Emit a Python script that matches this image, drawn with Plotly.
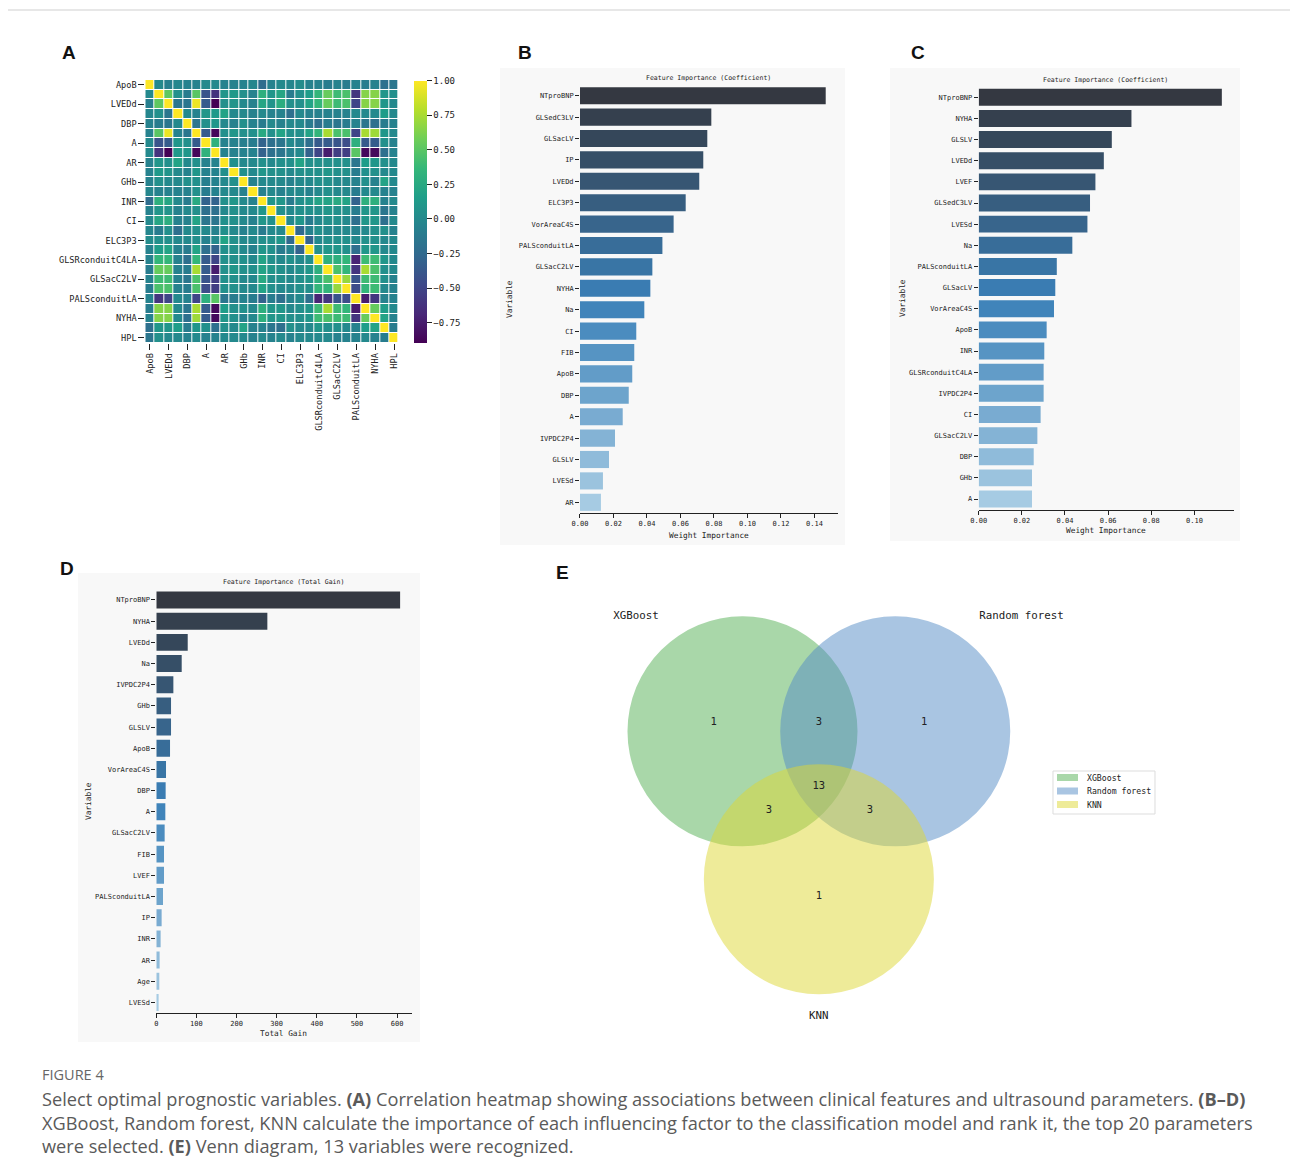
import plotly.graph_objects as go

W, H = 1290, 1176
MONO = "DejaVu Sans Mono"
INK = "#222222"

# horizontal placement correction for the page frame the figure is shown in
X_OFF, X_SCALE = 8.0, 0.9938


def px(x):
    return (x - X_OFF) / X_SCALE / W


def py(y):
    return 1 - y / H


# ---------------- A: correlation matrix (lower triangle, row by row) ----------------
heat_vars = ["ApoB", "GLSLV", "LVEDd", "Age", "DBP", "LVESd", "A", "LVEF", "AR", "Na",
             "GHb", "FIB", "INR", "IP", "CI", "SBP", "ELC3P3", "IVPDC2P4",
             "GLSRconduitC4LA", "GLSacLV", "GLSacC2LV", "GLSedC3LV", "PALSconduitLA",
             "NTproBNP", "NYHA", "VorAreaC4S", "HPL"]

corr_lower = [
    [1],
    [0.0, 1],
    [-0.08, 0.52, 1],
    [-0.02, 0.05, -0.15, 1],
    [-0.05, -0.1, -0.15, 0.0, 1],
    [-0.05, 0.5, 0.95, -0.05, -0.15, 1],
    [0.0, -0.4, -0.35, 0.1, 0.05, -0.35, 1],
    [0.0, -0.62, -0.895, 0.12, 0.1, -0.86, 0.32, 1],
    [-0.05, 0.1, 0.05, 0.2, 0.0, 0.05, -0.05, -0.05, 1],
    [-0.05, 0.12, 0.08, 0.0, -0.05, 0.1, -0.05, -0.05, 0.05, 1],
    [-0.05, 0.05, 0.0, 0.0, 0.05, 0.05, -0.08, -0.05, 0.0, 0.05, 1],
    [-0.02, -0.05, -0.05, -0.05, -0.05, 0.05, -0.1, -0.05, 0.0, 0.0, -0.05, 1],
    [-0.22, 0.3, 0.22, 0.0, -0.1, 0.25, -0.3, -0.3, 0.05, 0.1, 0.0, -0.05, 1],
    [-0.05, 0.1, 0.08, -0.05, 0.0, 0.05, -0.2, -0.2, 0.0, 0.05, 0.0, 0.0, 0.1, 1],
    [0.0, 0.22, 0.28, -0.05, -0.05, 0.2, -0.15, -0.15, 0.05, 0.05, 0.0, -0.05, 0.1, 0.05, 1],
    [-0.02, -0.1, 0.05, -0.2, 0.0, 0.05, 0.0, -0.05, 0.05, 0.0, -0.05, 0.0, -0.1, 0.0, 0.0, 1],
    [0.02, 0.05, 0.05, 0.0, 0.0, 0.05, -0.05, 0.0, 0.2, 0.05, 0.0, 0.0, 0.05, 0.05, 0.1, -0.25, 1],
    [-0.05, 0.15, 0.2, -0.05, -0.1, 0.2, -0.2, -0.3, 0.05, 0.05, 0.0, -0.05, 0.1, 0.05, -0.1,
     -0.05, -0.3, 1],
    [-0.05, 0.35, 0.35, -0.05, -0.2, 0.35, -0.35, -0.5, 0.05, 0.05, 0.05, 0.0, 0.2, 0.05, 0.0,
     0.05, 0.0, 0.05, 1],
    [-0.1, 0.55, 0.55, -0.05, -0.1, 0.75, -0.35, -0.75, 0.05, 0.1, 0.05, 0.05, 0.2, 0.1, 0.05,
     0.0, 0.05, 0.1, 0.3, 1],
    [-0.05, 0.4, 0.4, -0.05, -0.15, 0.45, -0.4, -0.55, 0.05, 0.05, 0.0, 0.0, 0.25, 0.05, 0.05,
     0.0, 0.05, 0.1, 0.3, 0.45, 1],
    [-0.1, 0.45, 0.45, -0.05, -0.1, 0.45, -0.45, -0.55, 0.05, 0.05, 0.0, 0.0, 0.2, 0.05, 0.0,
     0.0, 0.05, 0.05, 0.35, 0.35, 0.7, 1],
    [-0.05, -0.6, -0.5, 0.0, -0.05, -0.5, 0.3, 0.5, -0.15, -0.1, -0.05, -0.1, -0.3, -0.1, -0.2,
     -0.05, 0.0, -0.2, -0.7, -0.6, -0.4, -0.45, 1],
    [-0.1, 0.65, 0.65, 0.0, -0.15, 0.75, -0.35, -0.85, 0.15, 0.05, 0.05, 0.0, 0.3, 0.1, 0.1,
     0.0, 0.05, 0.1, 0.4, 0.75, 0.4, 0.35, -0.75, 1],
    [-0.05, 0.65, 0.65, 0.0, -0.2, 0.72, -0.35, -0.85, 0.1, 0.05, -0.05, 0.0, 0.3, 0.1, 0.1,
     0.05, 0.05, 0.1, 0.4, 0.45, 0.4, 0.4, -0.6, 0.55, 1],
    [-0.2, 0.1, 0.1, 0.15, -0.1, 0.1, 0.05, -0.2, 0.05, 0.0, 0.2, -0.05, -0.05, -0.15, -0.2,
     0.05, 0.0, 0.0, 0.1, 0.05, 0.05, 0.0, -0.05, 0.15, 0.2, 1],
    [-0.15, 0.05, 0.0, 0.0, -0.05, 0.0, -0.05, -0.05, 0.0, 0.0, 0.0, -0.05, 0.0, -0.05, 0.0,
     -0.05, 0.0, 0.0, 0.0, 0.0, -0.05, -0.05, -0.05, 0.0, -0.05, -0.1, 1],
]
colorbar_ticks = [1.0, 0.75, 0.5, 0.25, 0.0, -0.25, -0.5, -0.75]

# ---------------- B: Random forest coefficients ----------------
rf_features = ["NTproBNP", "GLSedC3LV", "GLSacLV", "IP", "LVEDd", "ELC3P3", "VorAreaC4S",
               "PALSconduitLA", "GLSacC2LV", "NYHA", "Na", "CI", "FIB", "ApoB", "DBP", "A",
               "IVPDC2P4", "GLSLV", "LVESd", "AR"]
rf_values = [0.1467, 0.0784, 0.0760, 0.0736, 0.0712, 0.0631, 0.0559, 0.0492, 0.0432, 0.0420,
             0.0384, 0.0336, 0.0324, 0.0312, 0.0291, 0.0255, 0.0209, 0.0173, 0.0137, 0.0125]
rf_ticks = [0.0, 0.02, 0.04, 0.06, 0.08, 0.10, 0.12, 0.14]

# ---------------- C: KNN coefficients ----------------
knn_features = ["NTproBNP", "NYHA", "GLSLV", "LVEDd", "LVEF", "GLSedC3LV", "LVESd", "Na",
                "PALSconduitLA", "GLSacLV", "VorAreaC4S", "ApoB", "INR", "GLSRconduitC4LA",
                "IVPDC2P4", "CI", "GLSacC2LV", "DBP", "GHb", "A"]
knn_values = [0.1127, 0.0708, 0.0617, 0.0580, 0.0541, 0.0516, 0.0504, 0.0434, 0.0362, 0.0355,
              0.0349, 0.0315, 0.0304, 0.0301, 0.0301, 0.0287, 0.0272, 0.0255, 0.0247, 0.0247]
knn_ticks = [0.0, 0.02, 0.04, 0.06, 0.08, 0.10]

# ---------------- D: XGBoost total gain ----------------
xgb_features = ["NTproBNP", "NYHA", "LVEDd", "Na", "IVPDC2P4", "GHb", "GLSLV", "ApoB",
                "VorAreaC4S", "DBP", "A", "GLSacC2LV", "FIB", "LVEF", "PALSconduitLA", "IP",
                "INR", "AR", "Age", "LVESd"]
xgb_values = [607.5, 276.7, 78.3, 63.3, 42.5, 36.7, 36.7, 34.2, 24.2, 23.3, 22.5, 20.8, 19.2,
              19.2, 16.7, 13.3, 10.8, 8.3, 7.5, 5.8]
xgb_ticks = [0, 100, 200, 300, 400, 500, 600]

# ---------------- E: Venn counts ----------------
venn_sets = ["XGBoost", "Random forest", "KNN"]
venn_regions = ["100", "110", "010", "111", "101", "011", "001"]
venn_counts = [1, 3, 1, 13, 3, 3, 1]

# ---------------- helpers ----------------
corr = [[0.0] * len(heat_vars) for _ in heat_vars]
for i, row in enumerate(corr_lower):
    for j, v in enumerate(row):
        corr[i][j] = v
        corr[j][i] = v
zmin = min(min(r) for r in corr)


def hex2rgb(h):
    h = h.lstrip("#")
    return tuple(int(h[k:k + 2], 16) for k in (0, 2, 4))


def blues_d(n):
    """Dark-to-light blue ramp (seaborn 'Blues_d')."""
    anchors = [hex2rgb(c) for c in ("#343841", "#3a80b8", "#a6cbe3")]
    out = []
    for i in range(n):
        t = i / (n - 1) * (len(anchors) - 1)
        k = min(int(t), len(anchors) - 2)
        f = t - k
        a, b = anchors[k], anchors[k + 1]
        c = [round(a[m] + (b[m] - a[m]) * f) for m in range(3)]
        out.append("rgb(%d,%d,%d)" % tuple(c))
    return out


fig = go.Figure()

# heatmap
fig.add_trace(go.Heatmap(
    z=corr, x=heat_vars, y=heat_vars, colorscale="Viridis", zmin=zmin, zmax=1.0,
    xgap=1, ygap=1, xaxis="x", yaxis="y", hoverongaps=False,
    colorbar=dict(
        x=px(414), xanchor="left", y=py(211.7), yanchor="middle",
        len=262, lenmode="pixels", thickness=13, outlinewidth=0, xpad=0, ypad=0,
        tickmode="array", tickvals=colorbar_ticks, tickformat=".2f",
        ticks="outside", ticklen=5, tickcolor=INK,
        tickfont=dict(family=MONO, size=9, color=INK),
    ),
))

# bar panels
bar_panels = [
    ("2", rf_features, rf_values, rf_ticks, ".2f"),
    ("3", knn_features, knn_values, knn_ticks, ".2f"),
    ("4", xgb_features, xgb_values, xgb_ticks, "d"),
]
for ax, feats, vals, ticks, fmt in bar_panels:
    fig.add_trace(go.Bar(
        x=vals, y=feats, orientation="h", width=0.8,
        marker=dict(color=blues_d(len(vals)), line=dict(width=0)),
        xaxis="x" + ax, yaxis="y" + ax, showlegend=False,
    ))

# Venn diagram geometry (unit radius)
venn_r = 1.0
venn_centers = [(-0.664, 0.0), (0.664, 0.0), (0.0, -1.286)]
venn_fill = ["#53af53", "#538bc5", "#ddd733"]
region_pos = {"100": (-0.915, 0.075), "110": (0.0, 0.075), "010": (0.915, 0.075),
              "111": (0.0, -0.482), "101": (-0.435, -0.684), "011": (0.443, -0.684),
              "001": (0.0, -1.438)}
label_pos = [(-1.59, 0.997), (1.762, 0.997), (0.0, -2.48)]

fig.add_trace(go.Scatter(
    x=[region_pos[r][0] for r in venn_regions], y=[region_pos[r][1] for r in venn_regions],
    text=[str(c) for c in venn_counts], mode="text", xaxis="x5", yaxis="y5",
    textfont=dict(family=MONO, size=10.5, color=INK), showlegend=False, hoverinfo="skip",
))
fig.add_trace(go.Scatter(
    x=[p[0] for p in label_pos], y=[p[1] for p in label_pos], text=venn_sets, mode="text",
    xaxis="x5", yaxis="y5", textfont=dict(family=MONO, size=10.8, color=INK),
    showlegend=False, hoverinfo="skip",
))

shapes = []
# page rule
shapes.append(dict(type="line", xref="paper", yref="paper", x0=0, x1=1, y0=py(10), y1=py(10),
                   line=dict(color="#cfcfcf", width=1), layer="below"))
# soft panel backgrounds behind the bar charts
for (x0, y0, x1, y1) in [(500, 68, 845, 545), (890, 68, 1240, 541), (78, 573, 420, 1042)]:
    shapes.append(dict(type="rect", xref="paper", yref="paper", x0=px(x0), x1=px(x1),
                       y0=py(y1), y1=py(y0), fillcolor="#f8f8f8", line=dict(width=0),
                       layer="below"))
for (cx, cy), col in zip(venn_centers, venn_fill):
    shapes.append(dict(type="circle", xref="x5", yref="y5", x0=cx - venn_r, x1=cx + venn_r,
                       y0=cy - venn_r, y1=cy + venn_r, fillcolor=col, opacity=0.5,
                       line=dict(width=0), layer="below"))
# Venn legend
shapes.append(dict(type="rect", xref="paper", yref="paper", x0=px(1053), x1=px(1155),
                   y0=py(814), y1=py(771), fillcolor="white",
                   line=dict(color="#dddddd", width=1)))

annotations = []
for k, (name, col) in enumerate(zip(venn_sets, venn_fill)):
    yc = 777.5 + 13.5 * k
    shapes.append(dict(type="rect", xref="paper", yref="paper", x0=px(1057), x1=px(1078),
                       y0=py(yc + 3.5), y1=py(yc - 3.5), fillcolor=col, opacity=0.5,
                       line=dict(width=0)))
    annotations.append(dict(text=name, xref="paper", yref="paper", x=px(1085), y=py(yc),
                            xanchor="left", yanchor="middle", showarrow=False,
                            font=dict(family=MONO, size=8.2, color=INK)))

# panel letters
for letter, (lx, ly) in zip("ABCDE", [(69, 53), (525, 53), (918, 53), (67, 568), (563, 572)]):
    annotations.append(dict(text="<b>%s</b>" % letter, xref="paper", yref="paper", x=px(lx),
                            y=py(ly), xanchor="center", yanchor="middle", showarrow=False,
                            font=dict(family="Liberation Sans", size=19, color="#111111")))

# bar chart titles and axis labels
bar_text = [
    ("Feature Importance (Coefficient)", 709, 78, "Weight Importance", 709, 535, 510, 299),
    ("Feature Importance (Coefficient)", 1106, 79.7, "Weight Importance", 1106, 531, 902, 298),
    ("Feature Importance (Total Gain)", 284, 582, "Total Gain", 284, 1033, 88, 801),
]
for title, tx, ty, xl, xx, xy, vx, vy in bar_text:
    annotations.append(dict(text=title, xref="paper", yref="paper", x=px(tx), y=py(ty),
                            xanchor="center", yanchor="middle", showarrow=False,
                            font=dict(family=MONO, size=6.5, color=INK)))
    annotations.append(dict(text=xl, xref="paper", yref="paper", x=px(xx), y=py(xy),
                            xanchor="center", yanchor="middle", showarrow=False,
                            font=dict(family=MONO, size=7.8, color=INK)))
    annotations.append(dict(text="Variable", xref="paper", yref="paper", x=px(vx), y=py(vy),
                            xanchor="center", yanchor="middle", showarrow=False, textangle=-90,
                            font=dict(family=MONO, size=7.8, color=INK)))

# caption
CAP = "Open Sans"
annotations.append(dict(text="FIGURE 4", xref="paper", yref="paper", x=px(40), y=py(1074),
                        xanchor="left", yanchor="middle", showarrow=False,
                        font=dict(family=CAP, size=14.5, color="#666666")))
caption_lines = [
    "Select optimal prognostic variables. <b>(A)</b> Correlation heatmap showing associations "
    "between clinical features and ultrasound parameters. <b>(B–D)</b>",
    "XGBoost, Random forest, KNN calculate the importance of each influencing factor to the "
    "classification model and rank it, the top 20 parameters",
    "were selected. <b>(E)</b> Venn diagram, 13 variables were recognized.",
]
for k, line in enumerate(caption_lines):
    annotations.append(dict(text=line, xref="paper", yref="paper", x=px(40),
                            y=py(1099 + 23.5 * k), xanchor="left", yanchor="middle",
                            showarrow=False, font=dict(family=CAP, size=18.2, color="#5a5a5a")))

tickfont_bar = dict(family=MONO, size=7, color=INK)
layout_axes = dict(
    xaxis=dict(domain=[px(145.3), px(398.7)], anchor="y", tickmode="array",
               tickvals=heat_vars[::2], tickangle=-90, ticks="outside", ticklen=6,
               tickcolor=INK, tickfont=dict(family=MONO, size=8.6, color=INK),
               showgrid=False, zeroline=False, showline=False),
    yaxis=dict(domain=[py(342.7), py(80)], anchor="x", autorange="reversed", tickmode="array",
               tickvals=heat_vars[::2], ticks="outside", ticklen=6, tickcolor=INK,
               tickfont=dict(family=MONO, size=8.6, color=INK),
               showgrid=False, zeroline=False, showline=False),
    xaxis5=dict(domain=[px(600), px(1180)], anchor="y5", range=[-1.903, 3.140], visible=False),
    yaxis5=dict(domain=[py(1040), py(590)], anchor="x5", range=[-2.684, 1.229], visible=False),
)
bar_domains = {
    "2": ((580, 838), (85, 513)),
    "3": ((978.7, 1234), (86.7, 509.6)),
    "4": ((156.3, 412.3), (589.4, 1013)),
}
for ax, feats, vals, ticks, fmt in bar_panels:
    (x0, x1), (y0, y1) = bar_domains[ax]
    layout_axes["xaxis" + ax] = dict(
        domain=[px(x0), px(x1)], anchor="y" + ax, range=[0, max(vals) * 1.05],
        tickmode="array", tickvals=ticks, tickformat=fmt, ticks="outside", ticklen=4,
        tickcolor=INK, tickfont=tickfont_bar, showline=True, linecolor=INK, linewidth=1,
        showgrid=False, zeroline=False)
    layout_axes["yaxis" + ax] = dict(
        domain=[py(y1), py(y0)], anchor="x" + ax, range=[len(feats) - 0.5, -0.5],
        ticks="outside", ticklen=4, tickcolor=INK, tickfont=tickfont_bar,
        showline=False, showgrid=False, zeroline=False)

fig.update_layout(
    width=W, height=H, margin=dict(l=0, r=0, t=0, b=0),
    paper_bgcolor="white", plot_bgcolor="rgba(0,0,0,0)",
    showlegend=False, shapes=shapes, annotations=annotations, **layout_axes,
)

fig.write_html("out.html")
